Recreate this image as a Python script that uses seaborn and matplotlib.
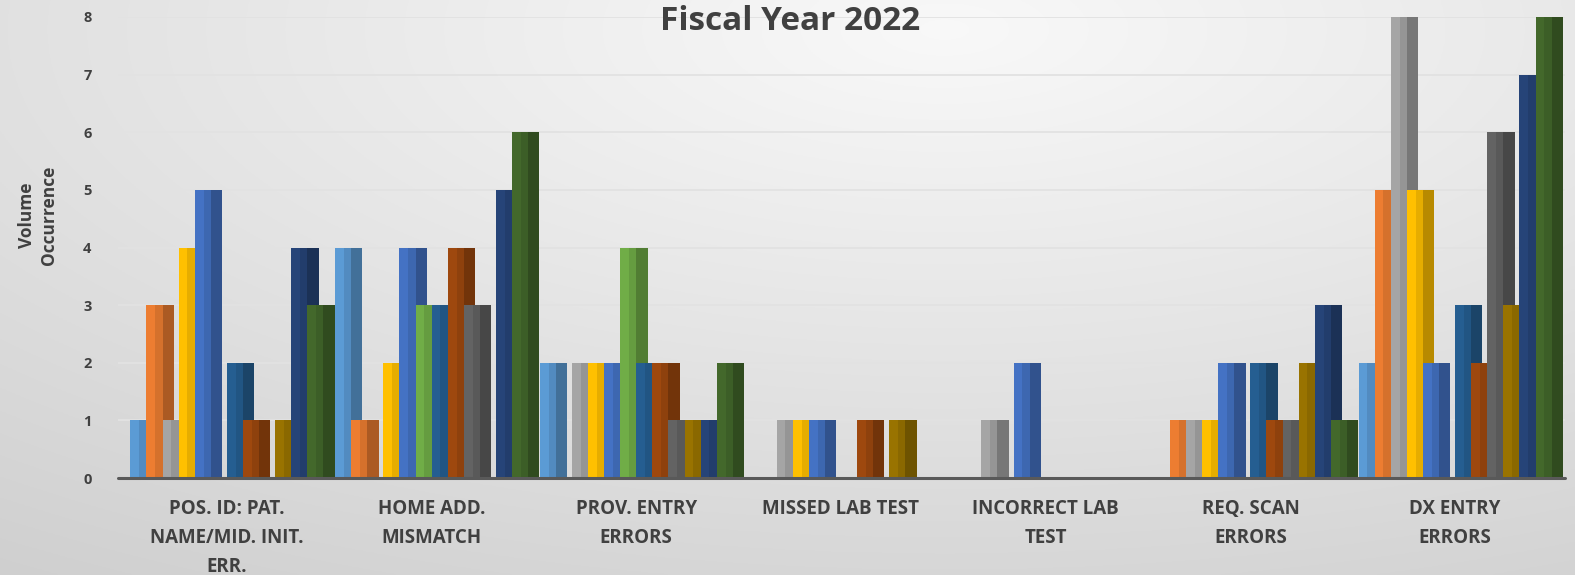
import numpy as np
import pandas as pd
import matplotlib
matplotlib.use("Agg")
import matplotlib.pyplot as plt
from matplotlib import font_manager as fm
from matplotlib.patches import Rectangle
from matplotlib.colors import to_rgb
import seaborn as sns

# Error categories (x axis)
categories = [
    "POS. ID: PAT.\nNAME/MID. INIT.\nERR.",
    "HOME ADD.\nMISMATCH",
    "PROV. ENTRY\nERRORS",
    "MISSED LAB TEST",
    "INCORRECT LAB\nTEST",
    "REQ. SCAN\nERRORS",
    "DX ENTRY\nERRORS",
]

# Fiscal-year months (one bar per month inside each category)
months = ["Oct", "Nov", "Dec", "Jan", "Feb", "Mar",
          "Apr", "May", "Jun", "Jul", "Aug", "Sep"]

# Occurrences per month, listed in category order
oct_ = [1, 4, 2, 0, 0, 0, 2]
nov = [3, 1, 0, 0, 0, 1, 5]
dec = [1, 0, 2, 1, 1, 1, 8]
jan = [4, 2, 2, 1, 0, 1, 5]
feb = [5, 4, 2, 1, 2, 2, 2]
mar = [0, 3, 4, 0, 0, 0, 0]
apr = [2, 3, 2, 0, 0, 2, 3]
may = [1, 4, 2, 1, 0, 1, 2]
jun = [0, 3, 1, 0, 0, 1, 6]
jul = [1, 0, 1, 1, 0, 2, 3]
aug = [4, 5, 1, 0, 0, 3, 7]
sep = [3, 6, 2, 0, 0, 1, 8]

series = [oct_, nov, dec, jan, feb, mar, apr, may, jun, jul, aug, sep]

colors = ["#5B9BD5", "#ED7D31", "#A5A5A5", "#FFC000", "#4472C4", "#70AD47",
          "#255E91", "#9E480E", "#636363", "#997300", "#264478", "#43682B"]

rows = []
for m, vals in zip(months, series):
    for c, v in zip(categories, vals):
        rows.append({"category": c, "month": m, "count": v})
df = pd.DataFrame(rows)


def bold_family(names):
    """First family that ships a normal-width bold face."""
    for n in names:
        for f in fm.fontManager.ttflist:
            w = f.weight
            if isinstance(w, str):
                w = {"bold": 700, "semibold": 600, "demibold": 600,
                     "heavy": 800, "black": 900}.get(w, 400)
            if (f.name == n and w >= 700 and f.style == "normal"
                    and f.stretch in ("normal", 500, "medium")):
                return n
    return "DejaVu Sans"


sns.set_theme(style="white")
FAMILY = bold_family(["Open Sans", "Noto Sans", "Lato", "Liberation Sans"])
plt.rcParams["font.family"] = [FAMILY, "DejaVu Sans"]

W, H = 1575, 575
fig = plt.figure(figsize=(W / 100, H / 100), dpi=100)

# soft radial background
bg = fig.add_axes([0, 0, 1, 1], zorder=-10)
yy, xx = np.mgrid[0:1:300j, 0:1:800j]
r = np.sqrt(((xx - 0.6) / 0.9) ** 2 + ((yy - 0.05) / 1.0) ** 2)
shade = np.clip(0.975 - 0.14 * r, 0.80, 1.0)
bg.imshow(np.dstack([shade] * 3), aspect="auto", extent=[0, 1, 1, 0])
bg.set_axis_off()

left, right = 118 / W, 1565 / W
bottom, top = 1 - 478 / H, 1 - 17 / H
ax = fig.add_axes([left, bottom, right - left, top - bottom])
ax.set_facecolor("none")

bar_width = 0.943
sns.barplot(data=df, x="category", y="count", hue="month",
            order=categories, hue_order=months, palette=colors,
            saturation=1, width=bar_width, gap=0, legend=False,
            edgecolor="none", ax=ax, zorder=2)

# darker side faces give the bars a little depth
for p in list(ax.patches):
    h = p.get_height()
    if h <= 0:
        continue
    x, w = p.get_x(), p.get_width()
    rgb = np.array(to_rgb(p.get_facecolor()))
    ax.add_patch(Rectangle((x + w, 0), w * 0.7, h, facecolor=rgb * 0.72,
                           edgecolor="none", zorder=1.5))
    ax.add_patch(Rectangle((x + w * 0.55, 0), w * 0.45, h,
                           facecolor=rgb * 0.9, edgecolor="none", zorder=2.1))

ax.set_ylim(0, 8)
ax.set_xlim(-0.532, 6.537)
ax.set_yticks(range(0, 9))
ax.yaxis.grid(True, color="#e2e2e2", linewidth=1.3, zorder=0.5)
ax.set_axisbelow(True)
ax.axhline(0, color="#595959", linewidth=2.2, zorder=3, clip_on=False)

for s in ax.spines.values():
    s.set_visible(False)

ax.tick_params(axis="y", length=0, pad=19, labelsize=10.5, labelcolor="#404040")
ax.tick_params(axis="x", length=0, pad=15, labelsize=13.5, labelcolor="#404040")
for t in ax.get_yticklabels():
    t.set_fontweight("bold")
for t in ax.get_xticklabels():
    t.set_fontweight("bold")
    t.set_linespacing(1.6)

ax.set_xlabel("")
ax.set_ylabel("")

fig.text(38 / W, 1 - 215 / H, "Volume\nOccurrence", rotation=90,
         ha="center", va="center", fontsize=12.5, fontweight="bold",
         color="#404040", linespacing=1.3)

fig.text(790 / W, 1 - 21 / H, "Fiscal Year 2022", ha="center", va="center",
         fontsize=24, fontweight="bold", color="#404040")

fig.savefig("out.png", dpi=100)
